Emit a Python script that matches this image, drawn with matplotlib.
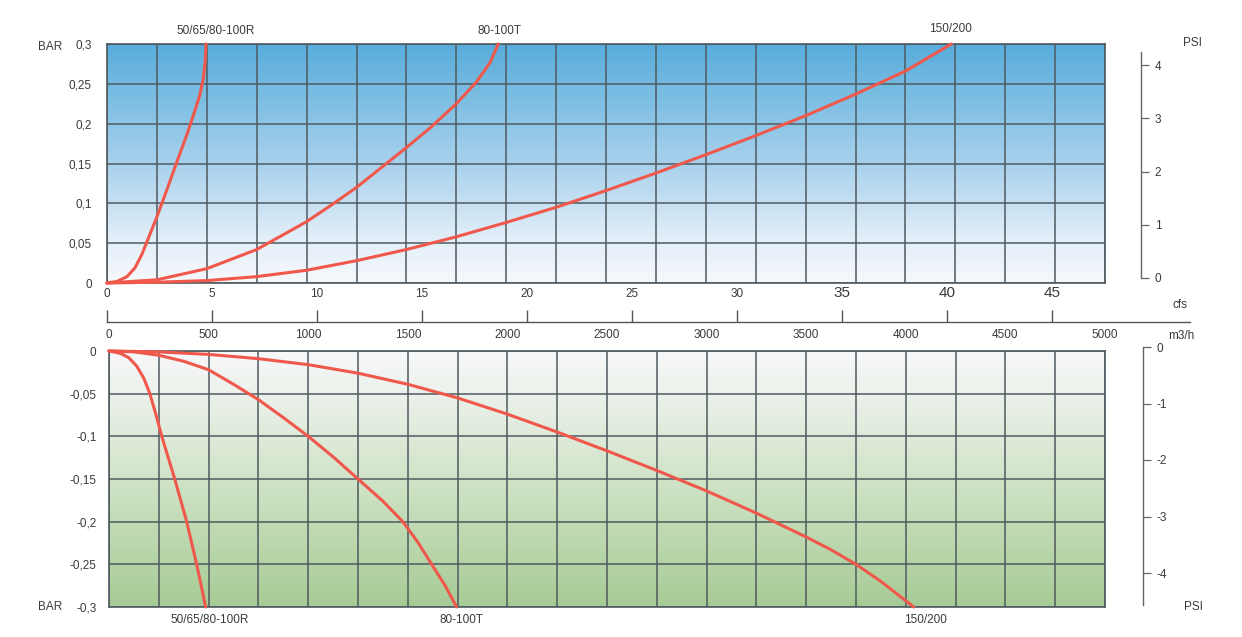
import numpy as np
import matplotlib
matplotlib.use('Agg')
import matplotlib.pyplot as plt
from matplotlib.colors import LinearSegmentedColormap

plt.rcParams['font.family'] = ['Liberation Sans', 'DejaVu Sans']
plt.rcParams['axes.unicode_minus'] = False

# flow in m3/h, pressure in bar
top_R_flow = [0, 50, 100, 140, 175, 210, 250, 300, 350, 400, 440, 465, 482, 492, 496]
top_R_bar = [0, 0.002, 0.008, 0.019, 0.036, 0.058, 0.083, 0.117, 0.152, 0.186, 0.216,
             0.236, 0.256, 0.278, 0.3]

top_T_flow = [0, 250, 500, 750, 1000, 1125, 1250, 1375, 1500, 1625, 1750, 1850, 1920, 1960]
top_T_bar = [0, 0.004, 0.018, 0.042, 0.077, 0.098, 0.12, 0.145, 0.17, 0.196, 0.225,
             0.252, 0.277, 0.3]

top_150_flow = [0, 250, 500, 750, 1000, 1250, 1500, 1750, 2000, 2250, 2500, 2750,
                3000, 3250, 3500, 3750, 4000, 4230]
top_150_bar = [0, 0.001, 0.003, 0.008, 0.016, 0.028, 0.042, 0.058, 0.076, 0.095, 0.116,
               0.138, 0.161, 0.185, 0.21, 0.237, 0.266, 0.3]

bot_R_flow = [0, 60, 100, 140, 175, 205, 235, 265, 300, 330, 360, 390, 415, 440, 463, 485]
bot_R_bar = [0, -0.003, -0.008, -0.018, -0.032, -0.05, -0.074, -0.1, -0.127, -0.15,
             -0.175, -0.2, -0.225, -0.25, -0.275, -0.3]

bot_T_flow = [0, 125, 250, 375, 500, 625, 750, 875, 1000, 1125, 1250, 1375, 1475,
              1550, 1620, 1690, 1745]
bot_T_bar = [0, -0.001, -0.005, -0.012, -0.022, -0.039, -0.057, -0.078, -0.1, -0.124,
             -0.15, -0.176, -0.2, -0.224, -0.25, -0.276, -0.3]

bot_150_flow = [0, 250, 500, 750, 1000, 1250, 1500, 1750, 2000, 2250, 2500, 2750,
                3000, 3250, 3500, 3625, 3750, 3875, 4040]
bot_150_bar = [0, -0.001, -0.004, -0.009, -0.016, -0.026, -0.039, -0.055, -0.074, -0.095,
               -0.117, -0.14, -0.164, -0.19, -0.218, -0.233, -0.25, -0.27, -0.3]

curve_names = ['50/65/80-100R', '80-100T', '150/200']

m3h_ticks = [0, 500, 1000, 1500, 2000, 2500, 3000, 3500, 4000, 4500, 5000]
cfs_ticks = [0, 5, 10, 15, 20, 25, 30, 35, 40, 45]
cfs_to_m3h = 105.3  # as drawn on the original scale

top_bar_ticks = [0, 0.05, 0.1, 0.15, 0.2, 0.25, 0.3]
top_bar_labels = ['0', '0,05', '0,1', '0,15', '0,2', '0,25', '0,3']
bot_bar_ticks = [0, -0.05, -0.1, -0.15, -0.2, -0.25, -0.3]
bot_bar_labels = ['0', '-0,05', '-0,1', '-0,15', '-0,2', '-0,25', '-0,3']

psi_top_ticks = [0, 1, 2, 3, 4]
psi_bot_ticks = [0, -1, -2, -3, -4]

W, H = 1242, 637
TXT = '#3a3a3a'
GRID = '#4f5a60'
RED = '#f0584c'


def px_axes(fig, x0, y0, x1, y1):
    # pixel box (top-left origin) -> figure axes
    return fig.add_axes([x0 / W, 1 - y1 / H, (x1 - x0) / W, (y1 - y0) / H])


def fx(x):
    return x / W


def fy(y):
    return 1 - y / H


fig = plt.figure(figsize=(W / 100, H / 100), dpi=100)
fig.patch.set_facecolor('white')

blue = LinearSegmentedColormap.from_list('blue', [
    (0, '#f7f9fc'), (0.2, '#e0edf8'), (0.5, '#a8d1ec'), (0.8, '#78bce2'), (1, '#58acdb')])
green = LinearSegmentedColormap.from_list('green', [
    (0, '#a6cb95'), (0.4, '#c8dfbd'), (0.75, '#e6eee3'), (1, '#f7f8fa')])

ramp = np.linspace(0, 1, 256).reshape(-1, 1)


def style_panel(ax, ylim, yticks, ylabels, cmap, pad):
    ax.imshow(ramp, cmap=cmap, origin='lower', aspect='auto',
              extent=[0, 5000, ylim[0], ylim[1]], zorder=0)
    ax.set_xlim(0, 5000)
    ax.set_ylim(*ylim)
    ax.set_xticks(m3h_ticks)
    ax.set_xticks(np.arange(0, 5001, 250), minor=True)
    ax.set_yticks(yticks)
    ax.set_yticklabels(ylabels)
    ax.grid(True, which='both', color=GRID, linewidth=1.1, zorder=1)
    ax.set_axisbelow(False)
    ax.tick_params(which='both', length=0)
    ax.tick_params(axis='y', pad=pad, labelsize=8.5, labelcolor=TXT)
    for s in ax.spines.values():
        s.set_color(GRID)
        s.set_linewidth(1.2)


line_kw = dict(color=RED, linewidth=2.2, solid_capstyle='round',
               solid_joinstyle='round', zorder=3, clip_on=False)

# top panel
ax1 = px_axes(fig, 107, 44, 1105, 283)
style_panel(ax1, (0, 0.3), top_bar_ticks, top_bar_labels, blue, 11)
ax1.tick_params(axis='x', labelbottom=False)
for xs, ys in [(top_R_flow, top_R_bar), (top_T_flow, top_T_bar), (top_150_flow, top_150_bar)]:
    ax1.plot(xs, ys, **line_kw)

# bottom panel
ax2 = px_axes(fig, 109, 351, 1105, 607)
style_panel(ax2, (-0.3, 0), bot_bar_ticks, bot_bar_labels, green, 9)
ax2.tick_params(axis='x', labelbottom=False, labeltop=True, pad=7, labelsize=8.5, labelcolor=TXT)
for xs, ys in [(bot_R_flow, bot_R_bar), (bot_T_flow, bot_T_bar), (bot_150_flow, bot_150_bar)]:
    ax2.plot(xs, ys, **line_kw)

# cfs scale between the panels
ax3 = px_axes(fig, 107, 321, 1190, 322)
ax3.set_xlim(0, 5000 * 1083 / 997)
ax3.set_ylim(0, 1)
ax3.patch.set_visible(False)
for k in ['top', 'left', 'right']:
    ax3.spines[k].set_visible(False)
ax3.spines['bottom'].set_color('#555555')
ax3.spines['bottom'].set_linewidth(1.0)
ax3.set_yticks([])
ax3.set_xticks([c * cfs_to_m3h for c in cfs_ticks])
ax3.set_xticklabels([str(c) for c in cfs_ticks])
ax3.tick_params(axis='x', bottom=True, top=False, labelbottom=False, labeltop=True,
                direction='in', length=9, width=1.0, color='#555555', pad=15,
                labelsize=8.5, labelcolor=TXT)
for lab, c in zip(ax3.get_xticklabels(), cfs_ticks):
    if c >= 35:
        lab.set_fontsize(11)

# PSI scales
ax4 = px_axes(fig, 1131, 52, 1141, 278)
ax4.set_ylim(0, (278 - 52) / 53.25)
ax5 = px_axes(fig, 1133, 347, 1143, 605)
ax5.set_ylim(-(605 - 347) / 56.5, 0)
for ax, ticks in [(ax4, psi_top_ticks), (ax5, psi_bot_ticks)]:
    ax.patch.set_visible(False)
    for k in ['top', 'left', 'bottom']:
        ax.spines[k].set_visible(False)
    ax.spines['right'].set_color('#666666')
    ax.spines['right'].set_linewidth(1.0)
    ax.set_xticks([])
    ax.yaxis.tick_right()
    ax.set_yticks(ticks)
    ax.set_yticklabels([str(t) for t in ticks])
    ax.tick_params(axis='y', direction='out', length=6, width=0.9, color='#666666',
                   pad=4, labelsize=8.5, labelcolor=TXT)

# unit labels
kw = dict(fontsize=8.5, color=TXT)
fig.text(fx(62), fy(47), 'BAR', ha='right', va='center', **kw)
fig.text(fx(62), fy(607), 'BAR', ha='right', va='center', **kw)
fig.text(fx(1192), fy(43), 'PSI', ha='center', va='center', **kw)
fig.text(fx(1193), fy(607), 'PSI', ha='center', va='center', **kw)
fig.text(fx(1180), fy(305), 'cfs', ha='center', va='center', **kw)
fig.text(fx(1168), fy(336), 'm3/h', ha='left', va='center', **kw)

# curve names
for name, x, y in zip(curve_names, [216, 499, 950], [31, 31, 29]):
    fig.text(fx(x), fy(y), name, ha='center', va='center', **kw)
for name, x, y in zip(curve_names, [210, 462, 925], [620, 620, 620]):
    fig.text(fx(x), fy(y), name, ha='center', va='center', **kw)

fig.savefig('out.png', dpi=100, facecolor=fig.get_facecolor())
